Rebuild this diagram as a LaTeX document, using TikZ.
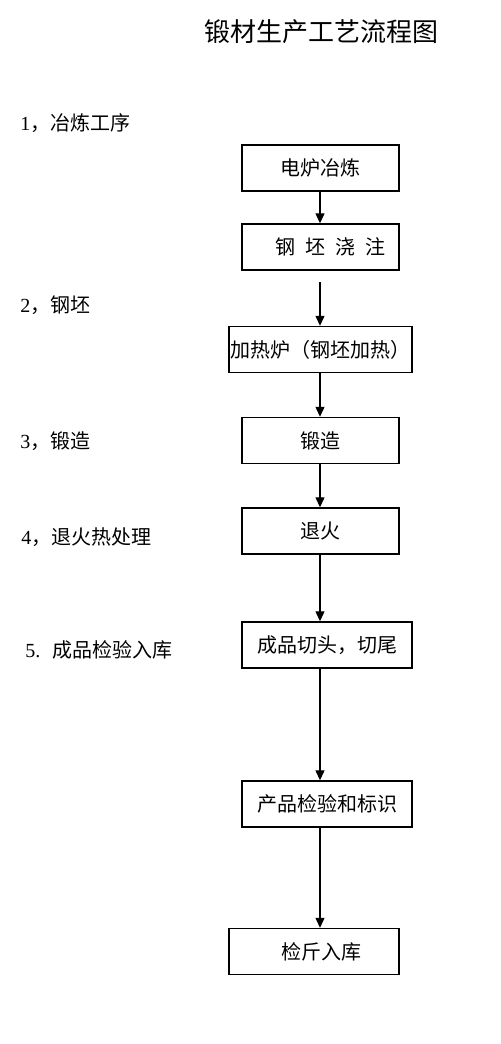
\documentclass[tikz,border=0pt]{standalone}
\usepackage{fontspec}
\setmainfont{Liberation Serif}
\newfontfamily\cjk{Noto Sans CJK SC}
\usetikzlibrary{arrows.meta}

\begin{document}
\begin{tikzpicture}[x=0.5pt, y=-0.5pt,
        stepbox/.style={shape=rectangle, draw=black, line width=0.7pt, inner sep=0pt, minimum height=23pt, font=\cjk\fontsize{10pt}{12pt}\selectfont},
        steplabel/.style={anchor=west, inner sep=0pt, font=\fontsize{10pt}{12pt}\selectfont},
        flow/.style={line width=0.6pt, -{Triangle[width=4.5pt, length=5pt]}}]
        \useasboundingbox (0, 0) rectangle (500, 1044);

        \node[inner sep=0pt, font=\cjk\fontsize{13pt}{15pt}\selectfont] (title) at (321, 32) {锻材生产工艺流程图};

        \node[steplabel] (L1) at (20, 123) {1{\cjk ，冶炼工序}};
        \node[steplabel] (L2) at (20, 305) {2{\cjk ，钢坯}};
        \node[steplabel] (L3) at (20, 441) {3{\cjk ，锻造}};
        \node[steplabel] (L4) at (21, 537) {4{\cjk ，退火热处理}};
        \node[steplabel] (L5) at (25, 650) {5.\hspace{6pt}{\cjk 成品检验入库}};

        \node[stepbox, minimum width=78.5pt] (B1) at (320.5, 168) {电炉冶炼};
        \node[stepbox, minimum width=78.5pt] (B2) at (320.5, 247) {\hspace*{10pt}钢\hspace{5pt}坯\hspace{5pt}浇\hspace{5pt}注};
        \node[stepbox, minimum width=91.5pt] (B3) at (320.5, 349.5) {加热炉（钢坯加热）};
        \node[stepbox, minimum width=78.5pt] (B4) at (320.5, 440.5) {锻造};
        \node[stepbox, minimum width=78.5pt] (B5) at (320.5, 531) {退火};
        \node[stepbox, minimum width=85pt] (B6) at (327, 645) {成品切头，切尾};
        \node[stepbox, minimum width=85pt] (B7) at (327, 804) {产品检验和标识};
        \node[stepbox, minimum width=85pt] (B8) at (314, 951.5) {\hspace*{7pt}检斤入库};

        \coordinate (axis) at (320, 0);
        \coordinate (S2) at (320, 282);

        \path [flow] (B1.south -| axis) edge (B2.north -| axis);
        \path [flow] (S2) edge (B3.north -| axis);
        \path [flow] (B3.south -| axis) edge (B4.north -| axis);
        \path [flow] (B4.south -| axis) edge (B5.north -| axis);
        \path [flow] (B5.south -| axis) edge (B6.north -| axis);
        \path [flow] (B6.south -| axis) edge (B7.north -| axis);
        \path [flow] (B7.south -| axis) edge (B8.north -| axis);
    \end{tikzpicture}
\end{document}
